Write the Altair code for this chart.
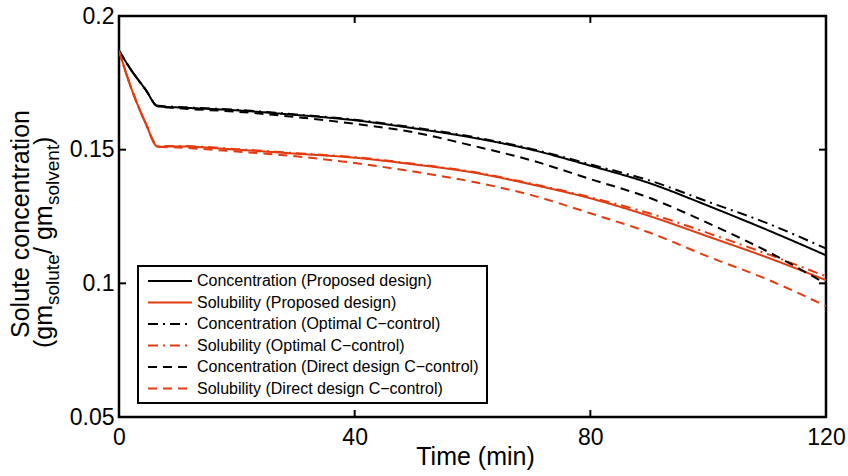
import altair as alt
import pandas as pd

# ---- data ----
time_min = [0, 2, 4.5, 6.6, 10, 20, 30, 40, 50, 60, 70, 80, 90, 100, 110, 120]
conc_proposed = [0.187, 0.180, 0.1725, 0.1662, 0.1658, 0.1647, 0.1630, 0.1610, 0.1580, 0.1545, 0.1500, 0.1440, 0.1375, 0.1290, 0.1200, 0.1105]
sol_proposed = [0.187, 0.1735, 0.160, 0.1511, 0.1512, 0.1500, 0.1485, 0.1470, 0.1445, 0.1415, 0.1370, 0.1318, 0.1252, 0.1175, 0.1097, 0.1012]
conc_optimal = [0.187, 0.180, 0.1725, 0.1664, 0.1660, 0.1649, 0.1632, 0.1612, 0.1583, 0.1548, 0.1503, 0.1445, 0.1385, 0.1305, 0.1225, 0.1130]
sol_optimal = [0.187, 0.1735, 0.160, 0.1513, 0.1514, 0.1502, 0.1487, 0.1472, 0.1447, 0.1417, 0.1373, 0.1322, 0.1262, 0.1188, 0.1110, 0.1026]
conc_direct = [0.187, 0.180, 0.1725, 0.1662, 0.1655, 0.1642, 0.1622, 0.1597, 0.1565, 0.1515, 0.1460, 0.1390, 0.1320, 0.1225, 0.1120, 0.0998]
sol_direct = [0.187, 0.1735, 0.160, 0.1511, 0.1508, 0.1493, 0.1475, 0.1450, 0.1418, 0.1380, 0.1330, 0.1262, 0.1190, 0.1100, 0.1015, 0.0915]

series_names = [
    "Concentration (Proposed design)",
    "Solubility (Proposed design)",
    "Concentration (Optimal C\u2212control)",
    "Solubility (Optimal C\u2212control)",
    "Concentration (Direct design C\u2212control)",
    "Solubility (Direct design C\u2212control)",
]
series_values = [conc_proposed, sol_proposed, conc_optimal, sol_optimal, conc_direct, sol_direct]

x_ticks = [0, 40, 80, 120]
y_ticks = [0.05, 0.1, 0.15, 0.2]

# ---- styles ----
BLACK = "#000000"
RED = "#E43A10"
series_colors = [BLACK, RED, BLACK, RED, BLACK, RED]
DASHDOT = [10, 5, 2, 5]
DASHED = [9, 6]
series_dash = [[1, 0], [1, 0], DASHDOT, DASHDOT, DASHED, DASHED]

FONT = "Liberation Sans"
W, H = 707, 401
PAD_L, PAD_T = 119, 16

xs = alt.Scale(domain=[0, 120], nice=False, zero=False)
ys = alt.Scale(domain=[0.05, 0.2], nice=False, zero=False)
xaxis = alt.Axis(values=x_ticks, format="d", ticks=False, domain=False, grid=False,
                 labelFont=FONT, labelFontSize=23, labelColor="black", labelPadding=9,
                 labelFlush=False, labelOverlap=False, title=None)
yaxis = alt.Axis(values=y_ticks, format="~g", ticks=False, domain=False, grid=False,
                 labelFont=FONT, labelFontSize=23, labelColor="black", labelPadding=5,
                 labelFlush=False, labelOverlap=False, title=None)
X = alt.X("t:Q", scale=xs, axis=xaxis)
Y = alt.Y("v:Q", scale=ys, axis=yaxis)

layers = []
for name, vals, col, dash in zip(series_names, series_values, series_colors, series_dash):
    df = pd.DataFrame({"t": time_min, "v": vals})
    layers.append(
        alt.Chart(df).mark_line(color=col, strokeWidth=2, strokeDash=dash,
                                interpolate="monotone", clip=True)
        .encode(x=X, y=Y)
    )

# inward ticks on all four sides
xt_df = pd.DataFrame({"t": x_ticks})
yt_df = pd.DataFrame({"v": y_ticks})
TL = 7
layers.append(alt.Chart(xt_df).mark_rule(color="black", strokeWidth=2)
              .encode(x=X, y=alt.value(H), y2=alt.value(H - TL)))
layers.append(alt.Chart(xt_df).mark_rule(color="black", strokeWidth=2)
              .encode(x=X, y=alt.value(0), y2=alt.value(TL)))
layers.append(alt.Chart(yt_df).mark_rule(color="black", strokeWidth=2)
              .encode(y=Y, x=alt.value(0), x2=alt.value(TL)))
layers.append(alt.Chart(yt_df).mark_rule(color="black", strokeWidth=2)
              .encode(y=Y, x=alt.value(W), x2=alt.value(W - TL)))

one = alt.Data(values=[{"k": 1}])

# legend box
LX0, LX1, LY0, LY1 = 138 - PAD_L, 487 - PAD_L, 266 - PAD_T, 403 - PAD_T
layers.append(alt.Chart(one).mark_rect(fill="white", stroke="black", strokeWidth=2)
              .encode(x=alt.value(LX0), x2=alt.value(LX1), y=alt.value(LY0), y2=alt.value(LY1)))
row_y = [281, 302.5, 324, 345.5, 367, 388.5]
for i, (name, col, dash) in enumerate(zip(series_names, series_colors, series_dash)):
    yy = row_y[i] - PAD_T
    layers.append(alt.Chart(one).mark_rule(color=col, strokeWidth=2, strokeDash=dash)
                  .encode(x=alt.value(148 - PAD_L), x2=alt.value(192 - PAD_L), y=alt.value(yy)))
    layers.append(alt.Chart(one).mark_text(align="left", baseline="middle", font=FONT,
                                           fontSize=16, color="black")
                  .encode(x=alt.value(197 - PAD_L), y=alt.value(yy), text=alt.value(name)))

# axis titles
layers.append(alt.Chart(one).mark_text(align="center", baseline="alphabetic", font=FONT,
                                       fontSize=25, color="black")
              .encode(x=alt.value(475.5 - PAD_L), y=alt.value(465 - PAD_T),
                      text=alt.value("Time (min)")))
layers.append(alt.Chart(one).mark_text(align="center", baseline="alphabetic", angle=270,
                                       font=FONT, fontSize=25, color="black")
              .encode(x=alt.value(29 - PAD_L), y=alt.value(224 - PAD_T),
                      text=alt.value("Solute concentration")))
# second line with subscripts: (gm_solute/ gm_solvent)
parts = [("(gm", 25, 0, 348), ("solute", 19, 7, 305), ("/ gm", 25, 0, 254),
         ("solvent", 19, 7, 205), (")", 25, 0, 145)]
for txt, fs, dx, ystart in parts:
    layers.append(alt.Chart(one).mark_text(align="left", baseline="alphabetic", angle=270,
                                           font=FONT, fontSize=fs, color="black")
                  .encode(x=alt.value(52 + dx - PAD_L), y=alt.value(ystart - PAD_T),
                          text=alt.value(txt)))

chart = (
    alt.layer(*layers)
    .properties(width=W, height=H,
                autosize=alt.AutoSizeParams(type="none"),
                padding={"left": PAD_L, "top": PAD_T, "right": 848 - PAD_L - W, "bottom": 476 - PAD_T - H},
                background="white")
    .configure_view(stroke="black", strokeWidth=2.5)
)

chart.save("out.html", embed_options={"renderer": "svg", "actions": False})
